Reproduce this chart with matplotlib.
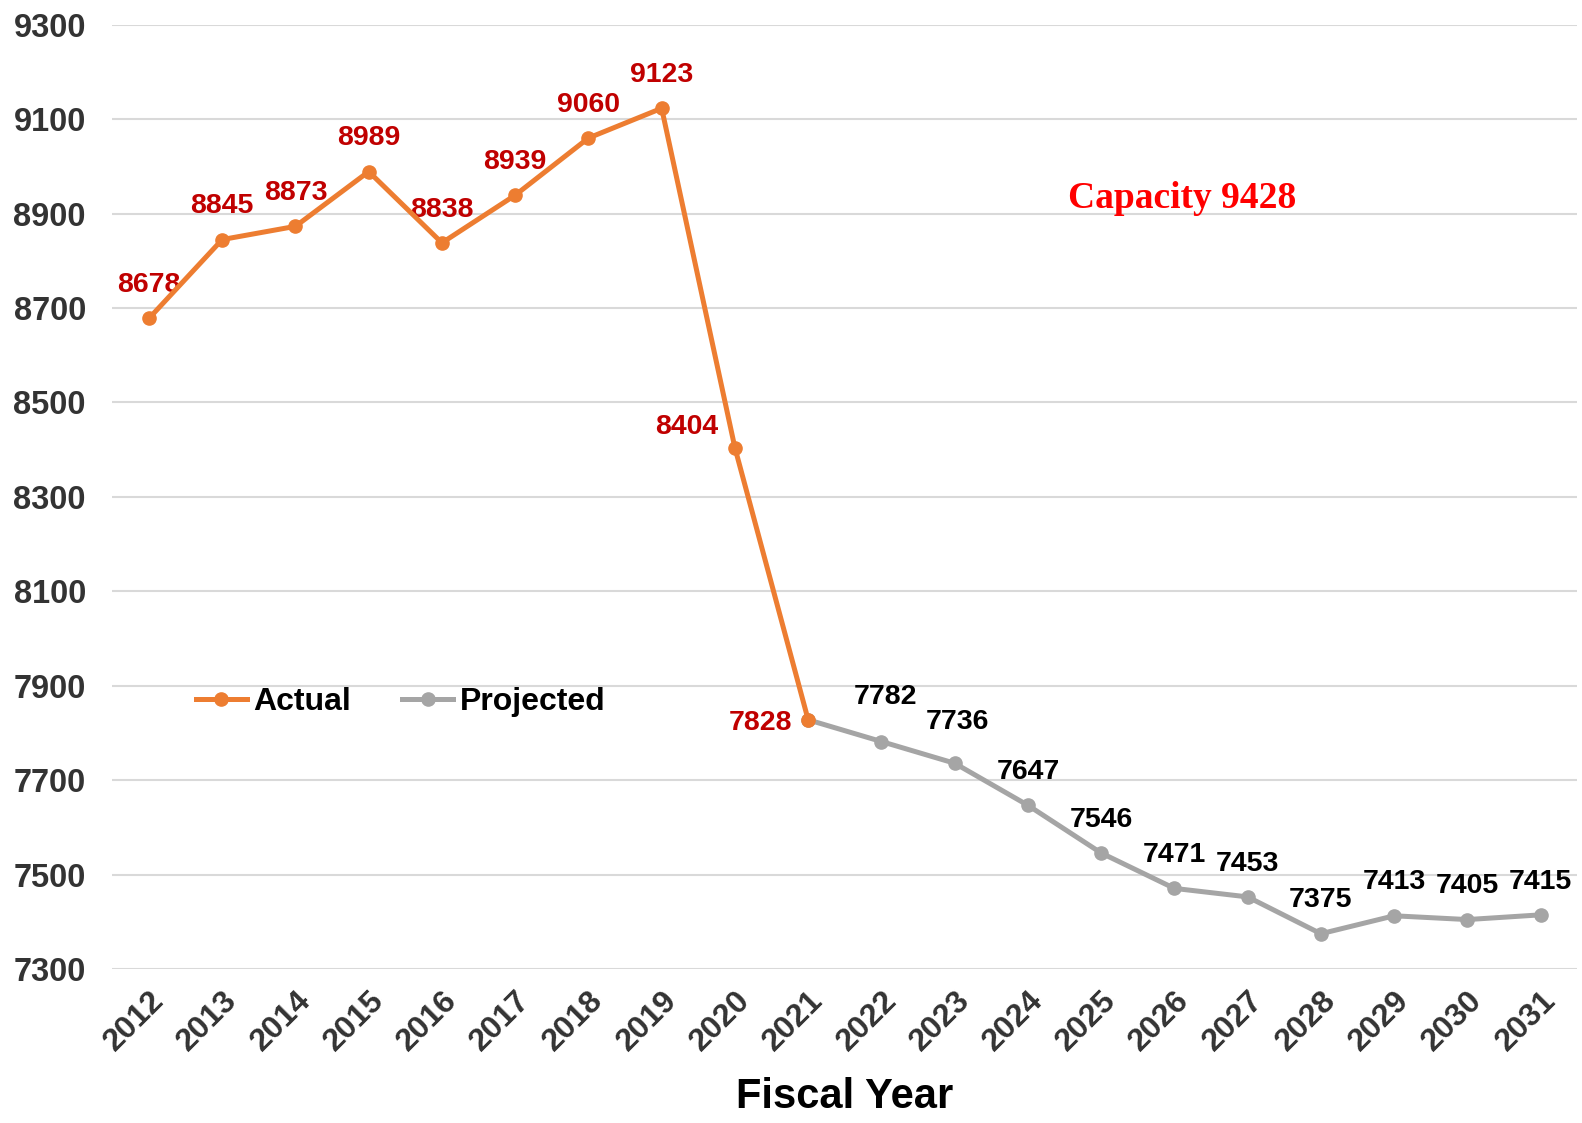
import matplotlib.pyplot as plt

plt.rcParams['font.family'] = ['Liberation Sans', 'DejaVu Sans']

years_actual = [2012, 2013, 2014, 2015, 2016, 2017, 2018, 2019, 2020, 2021]
actual = [8678, 8845, 8873, 8989, 8838, 8939, 9060, 9123, 8404, 7828]
years_proj = [2021, 2022, 2023, 2024, 2025, 2026, 2027, 2028, 2029, 2030, 2031]
projected = [7828, 7782, 7736, 7647, 7546, 7471, 7453, 7375, 7413, 7405, 7415]
capacity = 9428

orange = '#ED7D31'
gray = '#A5A5A5'
red_lbl = '#C00000'

fig = plt.figure(figsize=(15.82, 11.23), dpi=100)
ax = fig.add_axes([0.071, 0.137, 0.926, 0.841])

ax.plot(years_proj, projected, color=gray, lw=3.6, marker='o', ms=9.5, label='Projected', zorder=3)
ax.plot(years_actual, actual, color=orange, lw=3.6, marker='o', ms=9.5, label='Actual', zorder=4)

# data labels
for x, y in zip(years_actual, actual):
    off = (0, 24)
    if x == 2020:
        off = (-35, 15)
    elif x == 2021:
        off = (-34, -2)
    ax.annotate(str(y), (x, y), xytext=off, textcoords='offset points',
                ha='center', va='center', fontsize=20.5, fontweight='bold', color=red_lbl)
for x, y in zip(years_proj[1:], projected[1:]):
    off = (0, 24)
    if x == 2022:
        off = (3, 32)
    elif x == 2023:
        off = (2, 30)
    ax.annotate(str(y), (x, y), xytext=off, textcoords='offset points',
                ha='center', va='center', fontsize=20.5, fontweight='bold', color='black')

ax.text(2026.1, 8932, 'Capacity ' + str(capacity), color='#FF0000', fontsize=27,
        fontweight='bold', family='Liberation Serif', ha='center', va='center')

ax.set_xlim(2011.5, 2031.5)
ax.set_ylim(7300, 9300)
ax.set_yticks(range(7300, 9301, 200))
ax.set_xticks(range(2012, 2032))
ax.set_xticklabels([str(y) for y in range(2012, 2032)], rotation=45, ha='right',
                   rotation_mode='anchor', fontsize=23, fontweight='bold', color='#333333')
for lbl in ax.get_yticklabels():
    lbl.set_fontsize(23.5)
    lbl.set_fontweight('bold')
    lbl.set_color('#333333')
ax.tick_params(length=0, axis='y', pad=19)
ax.tick_params(length=0, axis='x', pad=12)
ax.grid(axis='y', color='#D9D9D9', lw=1.5)
ax.set_axisbelow(True)
for s in ax.spines.values():
    s.set_visible(False)

ax.set_xlabel('Fiscal Year', fontsize=30, fontweight='bold', labelpad=14)

h, l = ax.get_legend_handles_labels()
ax.legend(h[::-1], l[::-1], loc='center left', bbox_to_anchor=(0.057, 0.283), ncol=2,
          frameon=False, prop={'size': 23, 'weight': 'bold'}, handlelength=1.6,
          handletextpad=0.2, columnspacing=1.6, borderaxespad=0, borderpad=0)

fig.savefig('out.png', dpi=100)
